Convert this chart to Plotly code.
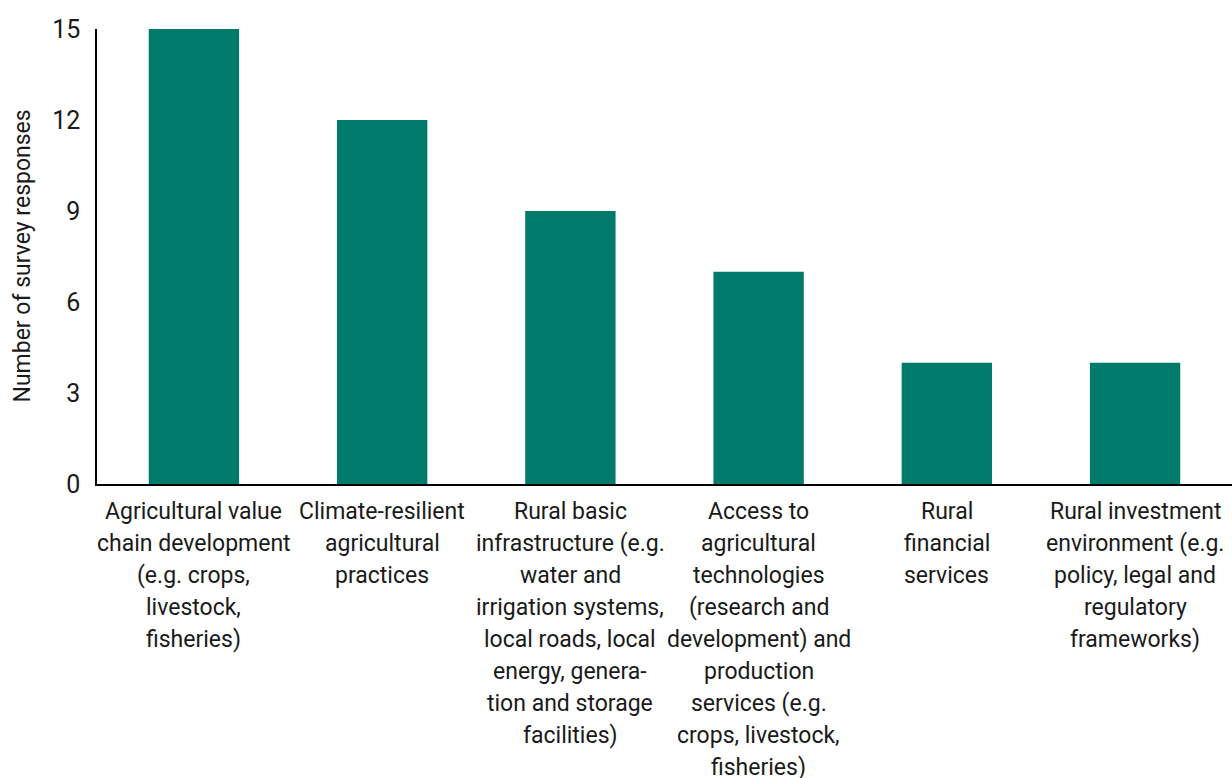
import plotly.graph_objects as go

categories = [
    "Agricultural value<br>chain development<br>(e.g. crops,<br>livestock,<br>fisheries)",
    "Climate-resilient<br>agricultural<br>practices",
    "Rural basic<br>infrastructure (e.g.<br>water and<br>irrigation systems,<br>local roads, local<br>energy, genera-<br>tion and storage<br>facilities)",
    "Access to<br>agricultural<br>technologies<br>(research and<br>development) and<br>production<br>services (e.g.<br>crops, livestock,<br>fisheries)",
    "Rural<br>financial<br>services",
    "Rural investment<br>environment (e.g.<br>policy, legal and<br>regulatory<br>frameworks)",
]
responses = [15, 12, 9, 7, 4, 4]
y_ticks = [0, 3, 6, 9, 12, 15]
y_title = "Number of survey responses"

FONT = "Roboto, Arial, sans-serif"
TEXT_COLOR = "#1a1a1a"
LABEL_SIZE = 23
LINE_STEP = 32      # px between category label lines
FIRST_LINE = 27     # px from baseline axis to first label line centre

positions = list(range(len(categories)))

fig = go.Figure(
    go.Bar(
        x=positions,
        y=responses,
        width=0.48,
        marker=dict(color="#007B6B", line=dict(width=0)),
        hoverinfo="skip",
    )
)

# category labels, one annotation per line for tighter control of leading
annotations = []
for pos, label in zip(positions, categories):
    for j, line in enumerate(label.split("<br>")):
        annotations.append(dict(
            x=pos, y=0, xref="x", yref="y",
            text=line, showarrow=False,
            xanchor="center", yanchor="middle",
            yshift=-(FIRST_LINE + LINE_STEP * j),
            font=dict(family=FONT, size=LABEL_SIZE, color=TEXT_COLOR),
        ))

# rotated y-axis title
annotations.append(dict(
    x=0, y=0.5, xref="paper", yref="paper",
    text=y_title, showarrow=False, textangle=-90,
    xanchor="center", yanchor="middle", xshift=-75,
    font=dict(family=FONT, size=LABEL_SIZE, color=TEXT_COLOR),
))

fig.update_layout(
    width=1232,
    height=778,
    margin=dict(l=97, r=0, t=29, b=294),
    paper_bgcolor="white",
    plot_bgcolor="white",
    showlegend=False,
    font=dict(family=FONT, size=LABEL_SIZE, color=TEXT_COLOR),
    annotations=annotations,
)

fig.update_xaxes(
    range=[-0.515, 5.515],
    tickmode="array",
    tickvals=positions,
    showticklabels=False,
    showline=True,
    linecolor="black",
    linewidth=1.5,
    ticks="",
    showgrid=False,
    zeroline=False,
)

fig.update_yaxes(
    range=[0, 15],
    tickmode="array",
    tickvals=y_ticks,
    showline=True,
    linecolor="black",
    linewidth=1.5,
    ticks="",
    showgrid=False,
    zeroline=False,
    ticklabelstandoff=10,
    tickfont=dict(family=FONT, size=25, color=TEXT_COLOR),
)

fig.write_html("out.html")
